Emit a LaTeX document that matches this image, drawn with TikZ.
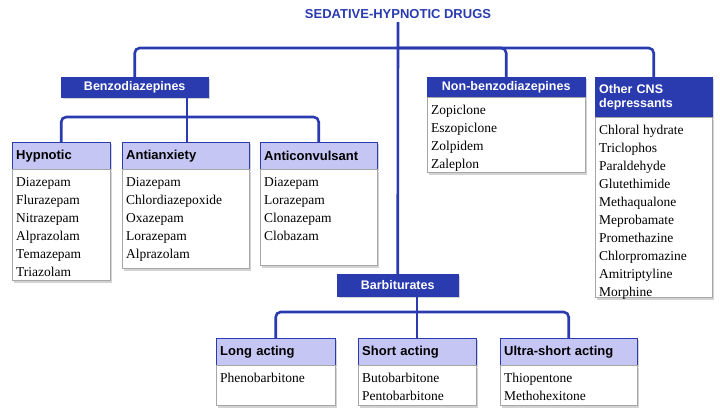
\documentclass[tikz,border=0pt]{standalone}
\usepackage{fontspec}
\setmainfont{Liberation Serif}
\setsansfont{Liberation Sans}
\usetikzlibrary{shadows}
\definecolor{dblue}{HTML}{2A3BB0}
\definecolor{lav}{HTML}{C6C6F4}
\newcommand\drugbox[3]{\parbox[t][#2pt][t]{#1pt}{\strut#3}}
\tikzset{
  conn/.style={line width=2.6pt, dblue, rounded corners=5pt},
  shad/.style={drop shadow={shadow xshift=2pt, shadow yshift=-2pt, opacity=.35}},
  dark/.style={shad, fill=dblue, draw=dblue, text=white, font=\sffamily\bfseries\fontsize{12.5}{14}\selectfont, inner sep=0pt, align=center},
  head/.style={shad, fill=lav, draw=dblue, text=black, font=\sffamily\bfseries\fontsize{13}{14}\selectfont, inner sep=4pt, anchor=north west, align=left},
  list/.style={shad, fill=white, draw=gray!70, font=\fontsize{13.5}{18}\selectfont, inner sep=4pt, anchor=north west}
}
\begin{document}
\begin{tikzpicture}[x=1pt, y=-1pt]
\useasboundingbox (0,0) rectangle (720,415);
% Top level
    \node[text=dblue, font=\sffamily\bfseries\fontsize{13}{14}\selectfont] (title) at (398,14) {SEDATIVE-HYPNOTIC DRUGS};
    \node[dark, minimum width=147pt, minimum height=20pt, anchor=north west] (benzo) at (61,77) {Benzodiazepines};
    \node[dark, minimum width=158pt, minimum height=20pt, anchor=north west] (nonbenzo) at (427,77) {Non-benzodiazepines};
    \node[dark, minimum width=117pt, minimum height=40pt, anchor=north west, align=left, text width=109pt] (other) at (595,77) {Other CNS\\depressants};
    \node[dark, minimum width=121pt, minimum height=22pt, anchor=north west] (barb) at (337,274) {Barbiturates};
% Lists of top level
    \node[list] (nonbenzoL) at (nonbenzo.south west) {\drugbox{150}{67}{Zopiclone\\Eszopiclone\\Zolpidem\\Zaleplon}};
    \node[list] (otherL) at (other.south west) {\drugbox{109}{172}{Chloral hydrate\\Triclophos\\Paraldehyde\\Glutethimide\\Methaqualone\\Meprobamate\\Promethazine\\Chlorpromazine\\Amitriptyline\\Morphine}};
% Benzodiazepine groups
    \node[head, minimum width=98pt, minimum height=27pt, text width=90pt] (hyp) at (12,142) {Hypnotic};
    \node[head, minimum width=127pt, minimum height=27pt, text width=119pt] (anx) at (122,142) {Antianxiety};
    \node[head, minimum width=117pt, minimum height=27pt, text width=109pt] (conv) at (260,142) {Anticonvulsant};
    \node[list] (hypL) at (hyp.south west) {\drugbox{90}{103}{Diazepam\\Flurazepam\\Nitrazepam\\Alprazolam\\Temazepam\\Triazolam}};
    \node[list] (anxL) at (anx.south west) {\drugbox{119}{91}{Diazepam\\Chlordiazepoxide\\Oxazepam\\Lorazepam\\Alprazolam}};
    \node[list] (convL) at (conv.south west) {\drugbox{109}{88}{Diazepam\\Lorazepam\\Clonazepam\\Clobazam}};
% Barbiturate groups
    \node[head, minimum width=119pt, minimum height=27pt, text width=111pt] (long) at (216,338) {Long acting};
    \node[head, minimum width=118pt, minimum height=27pt, text width=110pt] (short) at (358,338) {Short acting};
    \node[head, minimum width=137pt, minimum height=27pt, text width=129pt] (ultra) at (500,338) {Ultra-short acting};
    \node[list] (longL) at (long.south west) {\drugbox{111}{32}{Phenobarbitone}};
    \node[list] (shortL) at (short.south west) {\drugbox{110}{32}{Butobarbitone\\Pentobarbitone}};
    \node[list] (ultraL) at (ultra.south west) {\drugbox{129}{32}{Thiopentone\\Methohexitone}};
% Connectors
    \coordinate (top) at (398,48);
    \coordinate (bj) at (187,117);
    \coordinate (kj) at (417,312);
    \draw[conn] (title.south) -- (barb.north);
    \draw[conn] (top) -| (benzo.north);
    \draw[conn] (top) -| (nonbenzo.north);
    \draw[conn] (top) -| (other.north);
    \draw[conn] (benzo.south -| bj) -- (bj);
    \draw[conn] (bj) -| (hyp.north);
    \draw[conn] (bj) -- (anx.north -| bj);
    \draw[conn] (bj) -| (conv.north);
    \draw[conn] (barb.south -| kj) -- (kj);
    \draw[conn] (kj) -| (long.north);
    \draw[conn] (kj) -- (short.north -| kj);
    \draw[conn] (kj) -| (ultra.north);
\end{tikzpicture}
\end{document}
